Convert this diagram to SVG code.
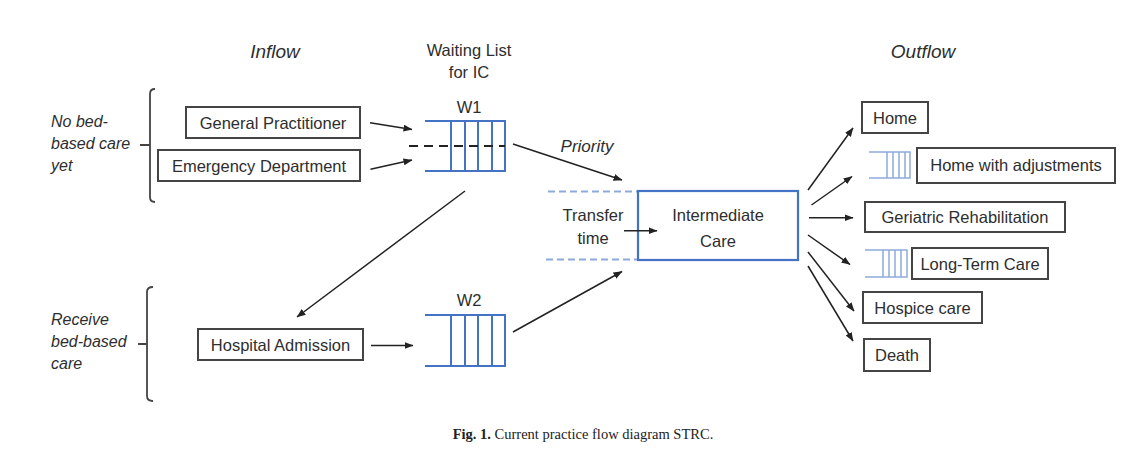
<svg xmlns="http://www.w3.org/2000/svg" width="1140" height="453" viewBox="0 0 1140 453">
<defs>
<marker id="ah" markerWidth="9" markerHeight="7" refX="8.5" refY="3.5" orient="auto" markerUnits="userSpaceOnUse">
<path d="M0,0 L9,3.5 L0,7 z" fill="#222"/>
</marker>
<style>
.t{font-family:"Liberation Sans",Arial,sans-serif;fill:#2e2e2e;font-size:16.5px}
.i{font-family:"Liberation Sans",Arial,sans-serif;fill:#2e2e2e;font-style:italic}
.box{fill:#fff;stroke:#444;stroke-width:2}
.q{fill:none;stroke:#4472c4;stroke-width:2}
.sq{fill:none;stroke:#8eaadb;stroke-width:1.5}
.c{fill:none;stroke:#222;stroke-width:1.5;marker-end:url(#ah)}
.br{fill:none;stroke:#444;stroke-width:1.8}
.dash{fill:none;stroke:#8eaadb;stroke-width:2;stroke-dasharray:7 4}
</style>
</defs>
<rect width="1140" height="453" fill="#fff"/>

<g id="headings">
<text class="i" x="275" y="58" font-size="19" text-anchor="middle">Inflow</text>
<text class="i" x="923" y="58" font-size="19" text-anchor="middle">Outflow</text>
<text class="t" x="469" y="56" font-size="16" text-anchor="middle">Waiting List</text>
<text class="t" x="469" y="78" font-size="16" text-anchor="middle">for IC</text>
</g>

<g id="group-no-bed">
<path class="br" d="M155,89 Q150,89 150,94 L150,197 Q150,202 155,202 M140,145 L150,145"/>
<text class="i" x="51" y="127" font-size="16">No bed-</text>
<text class="i" x="51" y="149" font-size="16">based care</text>
<text class="i" x="51" y="171" font-size="16">yet</text>
</g>

<g id="group-bed-based">
<path class="br" d="M153,287 Q147,287 147,292 L147,396 Q147,401 153,401 M138,344 L147,344"/>
<text class="i" x="51" y="325" font-size="16">Receive</text>
<text class="i" x="51" y="347" font-size="16">bed-based</text>
<text class="i" x="51" y="369" font-size="16">care</text>
</g>

<g id="gp">
<rect class="box" x="186" y="107" width="174" height="31"/>
<text class="t" x="273" y="128.5" text-anchor="middle">General Practitioner</text>
</g>
<g id="ed">
<rect class="box" x="158" y="150" width="202" height="31"/>
<text class="t" x="259" y="171.5" text-anchor="middle">Emergency Department</text>
</g>
<g id="ha">
<rect class="box" x="198" y="329" width="165" height="31"/>
<text class="t" x="280.5" y="350.5" text-anchor="middle">Hospital Admission</text>
</g>

<g id="w1">
<text class="t" x="469" y="113" font-size="16" text-anchor="middle">W1</text>
<path class="q" d="M425,121 L505,121 L505,171 L425,171 M451,121 L451,171 M465,121 L465,171 M478,121 L478,171 M492,121 L492,171"/>
<path d="M409,146 L505,146" fill="none" stroke="#222" stroke-width="2" stroke-dasharray="9 6"/>
</g>

<g id="w2">
<text class="t" x="469" y="306" font-size="16" text-anchor="middle">W2</text>
<path class="q" d="M425,315 L505,315 L505,366 L425,366 M451,315 L451,366 M465,315 L465,366 M478,315 L478,366 M492,315 L492,366"/>
</g>

<g id="ic">
<path class="dash" d="M548,191.5 L638,191.5 M546,259.5 L638,259.5"/>
<rect x="638" y="191" width="160" height="69" fill="#fff" stroke="#4472c4" stroke-width="2.2"/>
<text class="t" x="718" y="220.5" font-size="20.5" text-anchor="middle">Intermediate</text>
<text class="t" x="718" y="247" font-size="20.5" text-anchor="middle">Care</text>
<text class="t" x="593" y="221" font-size="15.5" text-anchor="middle">Transfer</text>
<text class="t" x="593" y="244" font-size="15.5" text-anchor="middle">time</text>
</g>

<g id="home">
<rect class="box" x="862" y="102" width="66" height="31"/>
<text class="t" x="895" y="123.5" text-anchor="middle">Home</text>
</g>
<g id="home-adj">
<path class="sq" d="M869,152 L910,152 L910,178 L869,178 M887,152 L887,178 M893,152 L893,178 M899,152 L899,178 M905,152 L905,178"/>
<rect class="box" x="917" y="148" width="198" height="35"/>
<text class="t" x="1016" y="171" text-anchor="middle">Home with adjustments</text>
</g>
<g id="geriatric">
<rect class="box" x="865" y="202" width="200" height="30"/>
<text class="t" x="965" y="223" text-anchor="middle">Geriatric Rehabilitation</text>
</g>
<g id="ltc">
<path class="sq" d="M865,250 L907,250 L907,277 L865,277 M883,250 L883,277 M889,250 L889,277 M895,250 L895,277 M901,250 L901,277"/>
<rect class="box" x="912" y="248" width="136" height="31"/>
<text class="t" x="980" y="269.5" text-anchor="middle">Long-Term Care</text>
</g>
<g id="hospice">
<rect class="box" x="863" y="292" width="119" height="31"/>
<text class="t" x="922.5" y="313.5" text-anchor="middle">Hospice care</text>
</g>
<g id="death">
<rect class="box" x="864" y="339" width="66" height="32"/>
<text class="t" x="897" y="361" text-anchor="middle">Death</text>
</g>

<g id="connectors">
<line class="c" x1="370" y1="122.7" x2="412" y2="129.5"/>
<line class="c" x1="370.5" y1="169.3" x2="412" y2="160"/>
<line class="c" x1="465" y1="191" x2="297" y2="317"/>
<line class="c" x1="371" y1="345.5" x2="413" y2="345.5"/>
<line class="c" x1="513" y1="144" x2="622" y2="180"/>
<text class="i" x="587" y="152" font-size="17" text-anchor="middle">Priority</text>
<line class="c" x1="513" y1="332" x2="622" y2="271.5"/>
<line class="c" x1="624" y1="230.7" x2="657" y2="230.7"/>
<line class="c" x1="808" y1="190" x2="853" y2="128"/>
<line class="c" x1="811.5" y1="205" x2="852" y2="176.5"/>
<line class="c" x1="809" y1="217.7" x2="853" y2="217.7"/>
<line class="c" x1="808" y1="235" x2="850" y2="264.5"/>
<line class="c" x1="808" y1="252" x2="854" y2="311"/>
<line class="c" x1="808" y1="266" x2="853" y2="341"/>
</g>

<g id="caption">
<text x="583" y="439" font-family="'Liberation Serif','Times New Roman',serif" font-size="14.5" fill="#222" text-anchor="middle"><tspan font-weight="bold">Fig. 1.</tspan> Current practice flow diagram STRC.</text>
</g>
</svg>
